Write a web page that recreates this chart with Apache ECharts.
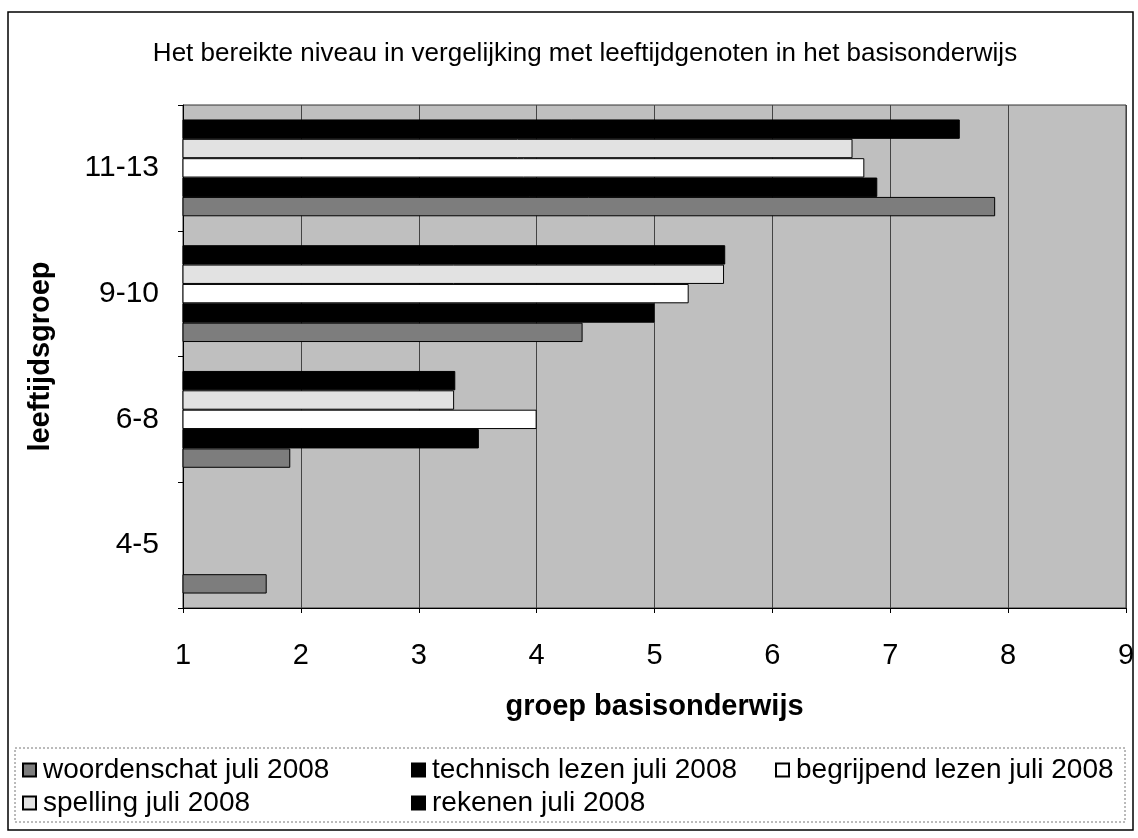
<!DOCTYPE html>
<html>
<head>
<meta charset="utf-8">
<script src="https://cdn.jsdelivr.net/npm/echarts@6/dist/echarts.min.js"></script>
<style>
html,body{margin:0;padding:0;background:#fff;}
#chart{width:1138px;height:838px;}
</style>
</head>
<body>
<div id="chart"></div>
<script>
const categories = ['4-5', '6-8', '9-10', '11-13'];
const seriesNames = ['woordenschat juli 2008', 'technisch lezen juli 2008', 'begrijpend lezen juli 2008', 'spelling juli 2008', 'rekenen juli 2008'];
const woordenschat = [1.71, 1.91, 4.39, 7.89];
const technischLezen = [null, 3.51, 5.0, 6.89];
const begrijpendLezen = [null, 4.0, 5.29, 6.78];
const spelling = [null, 3.3, 5.59, 6.68];
const rekenen = [null, 3.31, 5.6, 7.59];
const xTicks = [1, 2, 3, 4, 5, 6, 7, 8, 9];

const FONT = '"Liberation Sans", Arial, sans-serif';
const seriesData = [woordenschat, technischLezen, begrijpendLezen, spelling, rekenen];
const fills = ['#7d7d7d', '#000000', '#ffffff', '#e2e2e2', '#000000'];

const chart = echarts.init(document.getElementById('chart'), null, {renderer: 'canvas'});

const legendPos = [
  {left: 22, top: 756}, {left: 411, top: 756}, {left: 775, top: 756},
  {left: 22, top: 789}, {left: 411, top: 789}
];

// series drawn in reverse so that the first series sits at the bottom of each group
const seriesOrder = [4, 3, 2, 1, 0];

const option = {
  animation: false,
  backgroundColor: '#ffffff',
  title: {
    text: 'Het bereikte niveau in vergelijking met leeftijdgenoten in het basisonderwijs',
    left: 580, top: 36, textAlign: 'center',
    textStyle: {fontFamily: FONT, fontSize: 26, fontWeight: 'normal', color: '#000'}
  },
  grid: {
    left: 183, right: 12, top: 105, bottom: 230,
    show: true, backgroundColor: '#bfbfbf', borderColor: '#333', borderWidth: 1
  },
  xAxis: {
    type: 'value', min: 1, max: 9, interval: 1,
    name: 'groep basisonderwijs', nameLocation: 'middle', nameGap: 84,
    nameTextStyle: {fontFamily: FONT, fontSize: 29, fontWeight: 'bold', color: '#000'},
    axisLine: {show: true, lineStyle: {color: '#000', width: 1}},
    axisTick: {show: true, inside: false, length: 5, lineStyle: {color: '#000'}},
    axisLabel: {fontFamily: FONT, fontSize: 29, color: '#000', margin: 33,
      formatter: v => xTicks.includes(v) ? String(v) : ''},
    splitLine: {show: true, lineStyle: {color: '#444', width: 1}}
  },
  yAxis: {
    type: 'category', data: categories,
    name: 'leeftijdsgroep', nameLocation: 'middle', nameGap: 128, nameRotate: 90,
    nameTextStyle: {fontFamily: FONT, fontSize: 29, fontWeight: 'bold', color: '#000'},
    axisLine: {show: true, lineStyle: {color: '#000', width: 1}},
    axisTick: {show: true, inside: false, length: 5, lineStyle: {color: '#000'}},
    axisLabel: {fontFamily: FONT, fontSize: 30, color: '#000', margin: 24}
  },
  legend: seriesNames.map((n, i) => ({
    data: [n], left: legendPos[i].left, top: legendPos[i].top,
    orient: 'horizontal', icon: 'rect', itemWidth: 13, itemHeight: 13, itemGap: 0,
    padding: 0,
    textStyle: {fontFamily: FONT, fontSize: 28, lineHeight: 28, color: '#000', padding: [0, 0, 0, 2]}
  })),
  graphic: [
    {type: 'rect', shape: {x: 8, y: 12, width: 1125, height: 818}, silent: true, z: -10,
      style: {fill: 'none', stroke: '#000', lineWidth: 1.5}},
    {type: 'rect', shape: {x: 15, y: 748, width: 1110, height: 74}, silent: true, z: -10,
      style: {fill: 'none', stroke: '#777', lineWidth: 1, lineDash: [2, 2]}}
  ],
  series: seriesOrder.map(i => ({
    name: seriesNames[i], type: 'bar', data: seriesData[i],
    barGap: '0%', barCategoryGap: '23%',
    itemStyle: {color: fills[i], borderColor: '#000', borderWidth: 1}
  }))
};
chart.setOption(option);
</script>
</body>
</html>
